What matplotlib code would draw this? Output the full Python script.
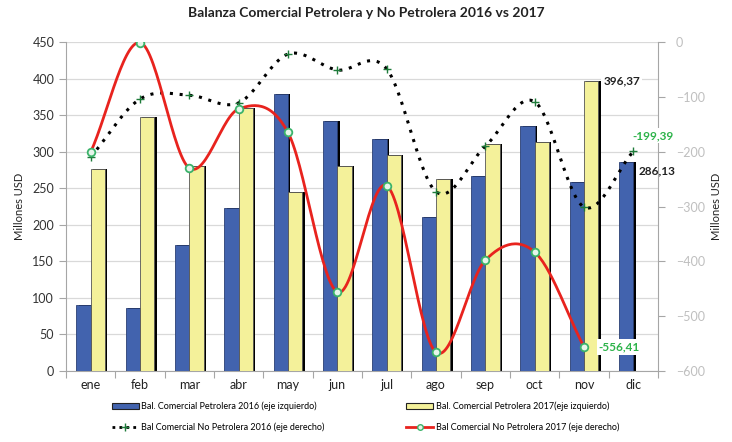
import numpy as np
import matplotlib
matplotlib.use("Agg")
import matplotlib.pyplot as plt
from matplotlib.lines import Line2D
from matplotlib.patches import Patch

plt.rcParams['font.family'] = ['Lato', 'DejaVu Sans']

meses = ["ene", "feb", "mar", "abr", "may", "jun", "jul", "ago", "sep", "oct", "nov", "dic"]
petrolera_2016 = [90, 86, 173, 223, 379, 342, 317, 210, 267, 335, 259, 286.13]
petrolera_2017 = [276, 347, 281, 360, 245, 281, 295, 262, 311, 313, 396.37]
no_petrolera_2016 = [-210, -104, -97, -111, -22, -51, -49, -273, -190, -109, -301, -199.39]
no_petrolera_2017 = [-201, -1, -230, -122, -165, -456, -262, -566, -398, -383, -556.41]


def smooth(xs, ys, n=30):
    # catmull-rom, like the excel "smoothed line" option
    xs = np.asarray(xs, float)
    ys = np.asarray(ys, float)
    px = np.concatenate([[2 * xs[0] - xs[1]], xs, [2 * xs[-1] - xs[-2]]])
    py = np.concatenate([[2 * ys[0] - ys[1]], ys, [2 * ys[-1] - ys[-2]]])
    ox, oy = [], []
    for i in range(1, len(px) - 2):
        t = np.linspace(0, 1, n, endpoint=False)
        for p, out in ((px, ox), (py, oy)):
            p0, p1, p2, p3 = p[i - 1], p[i], p[i + 1], p[i + 2]
            out.extend(0.5 * (2 * p1 + (-p0 + p2) * t + (2 * p0 - 5 * p1 + 4 * p2 - p3) * t ** 2
                              + (-p0 + 3 * p1 - 3 * p2 + p3) * t ** 3))
    ox.append(xs[-1])
    oy.append(ys[-1])
    return np.array(ox), np.array(oy)


blue = "#4263AE"
yellow = "#F4F19A"
green = "#2DB34A"
grey = "#A6A6A6"

fig = plt.figure(figsize=(7.32, 4.42), dpi=100)
ax = fig.add_axes([66 / 732, 1 - 371 / 442, 592 / 732, 329 / 442])
ax2 = ax.twinx()

x = np.arange(len(meses))
w = 0.29
x16 = x - w / 2
x17 = x[:len(petrolera_2017)] + w / 2

# shadows
ax.bar(x16 + 0.05, petrolera_2016, w, color="black", zorder=2)
ax.bar(x17 + 0.05, petrolera_2017, w, color="black", zorder=2)
ax.bar(x16, petrolera_2016, w, color=blue, edgecolor="#2A3F73", linewidth=0.6, zorder=3)
ax.bar(x17, petrolera_2017, w, color=yellow, edgecolor="#555555", linewidth=0.6, zorder=3)

ax.set_xlim(-0.5, len(meses) - 0.5)
ax.set_ylim(0, 450)
ax.set_yticks(range(0, 451, 50))
ax.yaxis.grid(True, color="#D9D9D9", linewidth=0.9)
ax.set_axisbelow(True)
ax.set_xticks(np.arange(-0.5, len(meses), 1))
ax.set_xticklabels([])
ax.set_xticks(x, minor=True)
ax.set_xticklabels(meses, minor=True)
ax.tick_params(axis="x", which="major", length=5, color=grey)
ax.tick_params(axis="x", which="minor", length=0, labelsize=9, colors="#222222", pad=6)
ax.tick_params(axis="y", length=5, color=grey, labelsize=9, labelcolor="#333333")
for s in ["top", "right"]:
    ax.spines[s].set_visible(False)
ax.spines["left"].set_color(grey)
ax.spines["bottom"].set_color(grey)
ax.set_ylabel("Millones USD", fontsize=8, color="#222222", labelpad=5)

# right axis lines
sx, sy = smooth(x, no_petrolera_2016)
ax2.plot(sx, sy, color="black", linestyle=(0, (1, 2.2)), linewidth=2.2, zorder=5)
ax2.plot(x, no_petrolera_2016, linestyle="none", marker="+", markersize=6,
         markeredgecolor="#1E7B3A", markeredgewidth=1, zorder=6)
x2 = x[:len(no_petrolera_2017)]
sx, sy = smooth(x2, no_petrolera_2017)
ax2.plot(sx, sy, color="#E8231E", linewidth=2, zorder=7)
ax2.plot(x2, no_petrolera_2017, linestyle="none", marker="o", markersize=5.5,
         markerfacecolor="#E6F5EA", markeredgecolor="#3BB36A", markeredgewidth=1.3, zorder=8)

ax2.set_ylim(-600, 0)
ax2.set_yticks(range(-600, 1, 100))
ax2.tick_params(axis="y", length=5, color=grey, labelsize=9, labelcolor="#BFBFBF", pad=8)
for s in ["top", "left", "bottom"]:
    ax2.spines[s].set_visible(False)
ax2.spines["right"].set_color(grey)
ax2.set_ylabel("Millones USD", fontsize=8, color="#222222", labelpad=4)

# data labels
lab = dict(fontsize=8.5, fontweight="bold", va="center", ha="left", zorder=10,
           bbox=dict(facecolor="white", edgecolor="none", pad=1.5))
ax.text(x17[-1] + 0.25, petrolera_2017[-1], "396,37", color="#222222", **lab)
ax.text(x16[-1] + 0.25, petrolera_2016[-1] - 12, "286,13", color="#222222", **lab)
ax2.text(x[-1] - 0.02, no_petrolera_2016[-1] + 29, "-199,39", color=green, **lab)
ax2.text(x2[-1] + 0.3, no_petrolera_2017[-1], "-556,41", color=green, **lab)

fig.suptitle("Balanza Comercial Petrolera y No Petrolera 2016 vs 2017",
             fontsize=10, fontweight="bold", color="#222222", y=0.985)

handles = [
    Patch(facecolor=blue, edgecolor="#222222", linewidth=0.8),
    Line2D([], [], color="black", linestyle=(0, (1, 1.5)), linewidth=2,
           marker="+", markeredgecolor="#1E7B3A", markersize=6),
    Patch(facecolor=yellow, edgecolor="#222222", linewidth=0.8),
    Line2D([], [], color="#E8231E", linewidth=2, marker="o", markersize=4,
           markerfacecolor="#E6F5EA", markeredgecolor="#3BB36A"),
]
labels = ["Bal. Comercial Petrolera 2016 (eje izquierdo)",
          "Bal Comercial No Petrolera 2016 (eje derecho)",
          "Bal. Comercial Petrolera 2017(eje izquierdo)",
          "Bal Comercial No Petrolera 2017 (eje derecho)"]
fig.legend(handles, labels, ncol=2, loc="upper left", bbox_to_anchor=(108 / 732, 1 - 398 / 442),
           frameon=False, fontsize=6.5, handlelength=3, handleheight=0.5, handletextpad=0.3,
           columnspacing=9, labelspacing=1.2, borderaxespad=0)

fig.savefig("out.png", dpi=100)
